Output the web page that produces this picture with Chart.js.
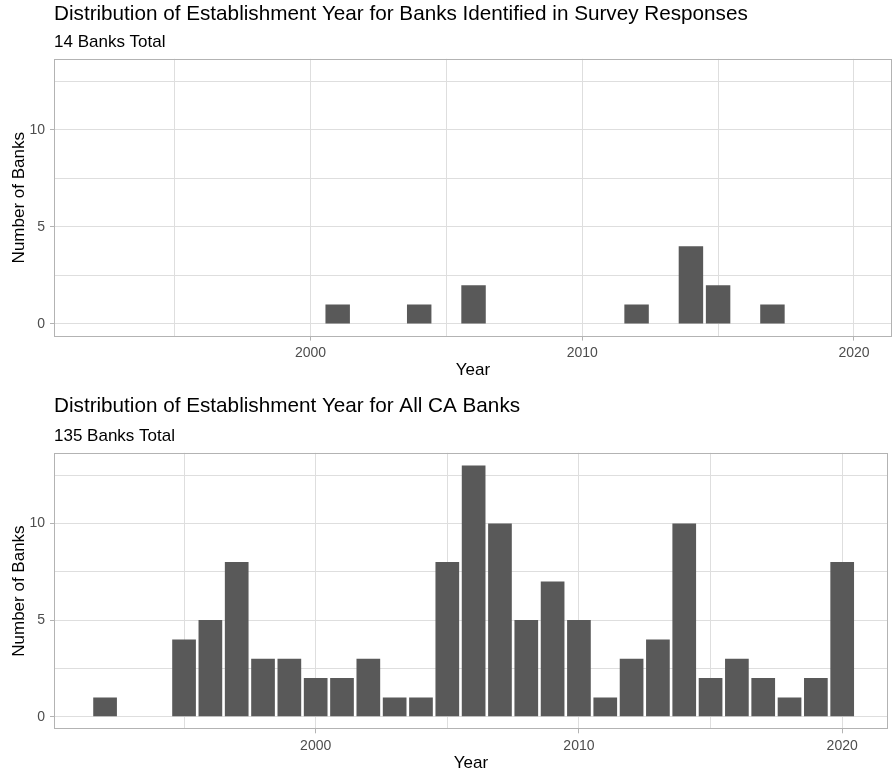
<!DOCTYPE html>
<html>
<head>
<meta charset="utf-8">
<script src="https://cdn.jsdelivr.net/npm/chart.js@4.4.1/dist/chart.umd.min.js"></script>
<style>
  html, body { margin: 0; padding: 0; background: #fff; overflow: hidden; }
  body { width: 894px; height: 776px; position: relative; }
  .plot { position: absolute; left: 0; width: 894px; height: 392px; }
  #plotSurvey { top: 0; }
  #plotAll { top: 392px; }
</style>
</head>
<body>
<div class="plot" id="plotSurvey"><canvas id="surveyChart" width="894" height="392"></canvas></div>
<div class="plot" id="plotAll"><canvas id="allChart" width="894" height="392"></canvas></div>
<script>
// Banks identified in survey responses, by establishment year
const surveyYears = [2001, 2004, 2006, 2012, 2014, 2015, 2017];
const surveyCounts = [1, 1, 2, 1, 4, 2, 1];

// All CA banks, by establishment year
const allYears = [1992, 1995, 1996, 1997, 1998, 1999, 2000, 2001, 2002, 2003, 2004, 2005, 2006, 2007,
                  2008, 2009, 2010, 2011, 2012, 2013, 2014, 2015, 2016, 2017, 2018, 2019, 2020];
const allCounts = [1, 4, 5, 8, 3, 3, 2, 2, 3, 1, 1, 8, 13, 10,
                   5, 7, 5, 1, 3, 4, 10, 2, 3, 2, 1, 2, 8];

// Grid lines (major + minor) and labelled ticks
const xGridYears = [1995, 2000, 2005, 2010, 2015, 2020];
const xLabelYears = [2000, 2010, 2020];
const yGridValues = [0, 2.5, 5, 7.5, 10, 12.5];
const yLabelValues = [0, 5, 10];

const FONT = "'Liberation Sans', Arial, sans-serif";
const GRID = '#dedede';
const FRAME = '#b3b3b3';
const BAR = '#595959';

// Light frame around the plotting panel
const panelFrame = {
  id: 'panelFrame',
  afterDraw(chart) {
    const { ctx, chartArea: a } = chart;
    const l = Math.round(a.left) + 0.5;
    const t = Math.round(a.top) + 0.5;
    const r = Math.round(a.right) - 0.5;
    const b = Math.round(a.bottom) - 0.5;
    ctx.save();
    ctx.strokeStyle = FRAME;
    ctx.lineWidth = 1;
    ctx.strokeRect(l, t, r - l, b - t);
    ctx.restore();
  }
};

function drawHistogram(canvasId, years, counts, titleText, subtitleText, xRange, box) {
  return new Chart(document.getElementById(canvasId), {
    type: 'bar',
    data: {
      datasets: [{
        data: years.map((yr, i) => ({ x: yr, y: counts[i] })),
        backgroundColor: BAR,
        borderWidth: 0,
        barPercentage: 0.9,
        categoryPercentage: 1
      }]
    },
    options: {
      responsive: false,
      animation: false,
      events: [],
      layout: { padding: { left: 0, right: box.padRight, top: 0, bottom: 0 } },
      plugins: {
        legend: { display: false },
        tooltip: { enabled: false },
        title: {
          display: true, text: titleText, align: 'start', fullSize: false, color: '#000',
          font: { family: FONT, size: 20.7, weight: 'normal', lineHeight: 1.2 },
          padding: { top: box.titleTop, bottom: 0 }
        },
        subtitle: {
          display: true, text: subtitleText, align: 'start', fullSize: false, color: '#000',
          font: { family: FONT, size: 17, weight: 'normal', lineHeight: 1.2 },
          padding: { top: box.subTop, bottom: box.subBottom }
        }
      },
      scales: {
        x: {
          type: 'linear',
          offset: false,
          min: xRange[0],
          max: xRange[1],
          afterBuildTicks: s => { s.ticks = xGridYears.map(v => ({ value: v })); },
          afterFit: s => { s.height = box.xAxisHeight; },
          grid: {
            offset: false,
            color: GRID, lineWidth: 1, tickLength: 4, tickWidth: 1,
            tickColor: c => (c.tick && xLabelYears.includes(c.tick.value)) ? FRAME : 'rgba(0,0,0,0)'
          },
          border: { display: false },
          ticks: {
            color: '#4d4d4d', font: { family: FONT, size: 14 }, padding: 4,
            maxRotation: 0, autoSkip: false,
            callback: v => xLabelYears.includes(v) ? String(v) : ''
          },
          title: {
            display: true, text: 'Year', color: '#000',
            font: { family: FONT, size: 17, lineHeight: 1.2 },
            padding: { top: 0, bottom: box.xTitleBottom }
          }
        },
        y: {
          min: -0.65,
          max: 13.65,
          afterBuildTicks: s => { s.ticks = yGridValues.map(v => ({ value: v })); },
          afterFit: s => { s.width = 54; },
          grid: {
            color: GRID, lineWidth: 1, tickLength: 4, tickWidth: 1,
            tickColor: c => (c.tick && yLabelValues.includes(c.tick.value)) ? FRAME : 'rgba(0,0,0,0)'
          },
          border: { display: false },
          ticks: {
            color: '#4d4d4d', font: { family: FONT, size: 14 }, padding: 5,
            callback: v => yLabelValues.includes(v) ? String(v) : ''
          },
          title: {
            display: true, text: 'Number of Banks', color: '#000',
            font: { family: FONT, size: 17, lineHeight: 1.2 },
            padding: { top: 9, bottom: 0 }
          }
        }
      }
    },
    plugins: [panelFrame]
  });
}

drawHistogram('surveyChart', surveyYears, surveyCounts,
  'Distribution of Establishment Year for Banks Identified in Survey Responses',
  '14 Banks Total',
  [1990.56, 2021.40],
  { padRight: 2, titleTop: 2, subTop: 5, subBottom: 6.6, xAxisHeight: 55.4, xTitleBottom: 11 });

drawHistogram('allChart', allYears, allCounts,
  'Distribution of Establishment Year for All CA Banks',
  '135 Banks Total',
  [1990.06, 2021.74],
  { padRight: 6, titleTop: 2.3, subTop: 7, subBottom: 6.3, xAxisHeight: 54.7, xTitleBottom: 10.7 });
</script>
</body>
</html>
